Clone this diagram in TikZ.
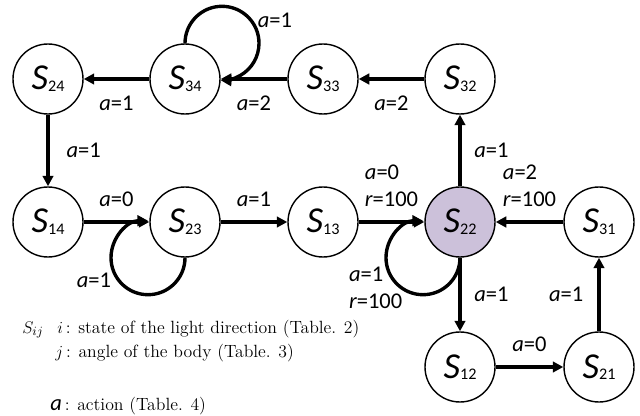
\documentclass[tikz,border=0pt]{standalone}
\usepackage{fontspec}
\newfontfamily\calfont{Carlito}
\usetikzlibrary{arrows.meta}
\definecolor{goalfill}{HTML}{CCC1DA}

% state name S with its two indices
\newcommand{\sname}[1]{{\calfont\fontsize{26}{26}\selectfont\itshape S}{\calfont\fontsize{11.5}{11.5}\selectfont\raisebox{-1.2pt}{#1}}}
% action and reward labels
\newcommand{\av}[1]{{\itshape a}=#1}
\newcommand{\rv}{{\itshape r}=100}

\begin{document}
\begin{tikzpicture}[>={Triangle[length=7.5pt,width=7.5pt]},
    statenode/.style={circle, draw, line width=1pt, minimum size=1.75cm, inner sep=0pt, fill=white},
    trans/.style={->, line width=2.4pt},
    lab/.style={font=\calfont\fontsize{16}{19}\selectfont, inner sep=2pt, align=left},
    legend/.style={anchor=base west, inner sep=0pt, font=\fontsize{12.6}{15}\selectfont}]
    \useasboundingbox (0,0) rectangle (16,-10.4);
    \def\R{0.925}

    % States
    \node[statenode] (S24) at (1.2, -1.975) {\sname{24}};
    \node[statenode] (S34) at (4.625, -1.975) {\sname{34}};
    \node[statenode] (S33) at (8.075, -1.975) {\sname{33}};
    \node[statenode] (S32) at (11.5, -1.975) {\sname{32}};
    \node[statenode] (S14) at (1.2, -5.55) {\sname{14}};
    \node[statenode] (S23) at (4.625, -5.55) {\sname{23}};
    \node[statenode] (S13) at (8.075, -5.55) {\sname{13}};
    \node[statenode, fill=goalfill] (S22) at (11.5, -5.55) {\sname{22}};
    \node[statenode] (S31) at (14.975, -5.55) {\sname{31}};
    \node[statenode] (S12) at (11.5, -9.175) {\sname{12}};
    \node[statenode] (S21) at (14.975, -9.175) {\sname{21}};

    % Transitions
    \draw[trans] (S34) -- node[lab, below=9pt] (l3424) {\av{1}} (S24);
    \draw[trans] (S33) -- node[lab, below=9pt] (l3334) {\av{2}} (S34);
    \draw[trans] (S32) -- node[lab, below=9pt] (l3233) {\av{2}} (S33);
    \draw[trans] (S24) -- node[lab, right=10pt] (l2414) {\av{1}} (S14);
    \draw[trans] (S14) -- node[lab, above=8pt] (l1423) {\av{0}} (S23);
    \draw[trans] (S23) -- node[lab, above=8pt] (l2313) {\av{1}} (S13);
    \draw[trans] (S13) -- node[lab, above=8pt] (l1322) {\av{0}\\\rv} (S22);
    \draw[trans] (S22) -- node[lab, right=7pt] (l2232) {\av{1}} (S32);
    \draw[trans] (S31) -- node[lab, above=8pt] (l3122) {\av{2}\\\rv} (S22);
    \draw[trans] (S22) -- node[lab, right=7pt] (l2212) {\av{1}} (S12);
    \draw[trans] (S12) -- node[lab, above=8pt] (l1221) {\av{0}} (S21);
    \draw[trans] (S21) -- node[lab, left=8pt] (l2131) {\av{1}} (S31);

    % Self loops
    \draw[trans] (S34.north) arc[start angle=180, end angle=-92, radius=\R];
    \node[lab] (l3434) at (6.875, -0.5) {\av{1}};
    \draw[trans] (S23.south) arc[start angle=0, end angle=-270, radius=\R];
    \node[lab] (l2323) at (2.35, -7.0) {\av{1}};
    \draw[trans] (S22.south) arc[start angle=0, end angle=-270, radius=\R];
    \node[lab, anchor=west] (l2222) at (8.65, -7.2) {\av{1}\\\rv};

    % Legend
    \node[legend] (legS) at (0.55, -8.325) {$S_{ij}$};
    \node[legend] (legI) at (1.425, -8.325) {$i$\,: state of the light direction (Table. 2)};
    \node[legend] (legJ) at (1.375, -8.925) {$j$\,: angle of the body (Table. 3)};
    \node[legend] (legA) at (1.25, -10.25) {{\calfont\fontsize{16}{16}\selectfont\itshape a}\,: action (Table. 4)};
\end{tikzpicture}
\end{document}
